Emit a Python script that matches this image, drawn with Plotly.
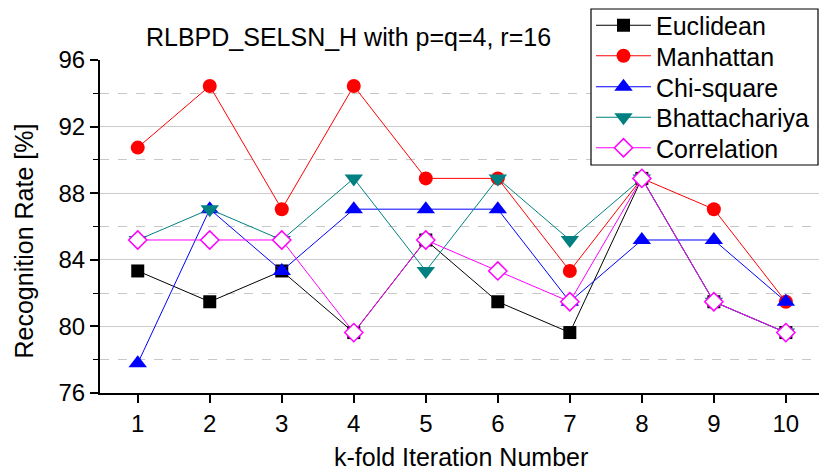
import plotly.graph_objects as go

# k-fold iterations and recognition rates (%) per distance measure
folds = [1, 2, 3, 4, 5, 6, 7, 8, 9, 10]
euclidean = [83.33, 81.48, 83.33, 79.63, 85.19, 81.48, 79.63, 88.89, 81.48, 79.63]
manhattan = [90.74, 94.44, 87.04, 94.44, 88.89, 88.89, 83.33, 88.89, 87.04, 81.48]
chi_square = [77.78, 87.04, 83.33, 87.04, 87.04, 87.04, 81.48, 85.19, 85.19, 81.48]
bhattachariya = [85.19, 87.04, 85.19, 88.89, 83.33, 88.89, 85.19, 88.89, 81.48, 79.63]
correlation = [85.19, 85.19, 85.19, 79.63, 85.19, 83.33, 81.48, 88.89, 81.48, 79.63]

y_ticks = [76, 80, 84, 88, 92, 96]

FONT = "Arial, Liberation Sans, sans-serif"
W, H = 819, 473
ML, MT, MB, MR = 100, 60, 80, 0
PW, PH = W - ML - MR, H - MT - MB
X_MIN, X_MAX = 0.476, 10.46


def px_x(px):
    return (px - ML) / PW


def px_y(py):
    return (H - MB - py) / PH


fig = go.Figure()

series = [
    ("Euclidean", euclidean, "#000000", "square", 13),
    ("Manhattan", manhattan, "#FF0000", "circle", 14),
    ("Chi-square", chi_square, "#0000FF", "triangle-up", 16),
    ("Bhattachariya", bhattachariya, "#008080", "triangle-down", 16),
]
for i, (name, vals, color, sym, size) in enumerate(series):
    fig.add_trace(go.Scatter(
        x=folds, y=vals, name=name, mode="lines+markers",
        legend="legend" if i == 0 else f"legend{i + 1}",
        line=dict(color=color, width=1),
        marker=dict(symbol=sym, size=size, color=color, line=dict(width=0)),
    ))

fig.add_trace(go.Scatter(
    x=folds, y=correlation, name="Correlation", mode="lines+markers",
    legend="legend5",
    line=dict(color="#FF00FF", width=1),
    marker=dict(symbol="diamond", size=14, color="#FFFFFF",
                line=dict(color="#FF00FF", width=1.5)),
))

# one legend per row so the row pitch can be set exactly
row_centers = [25.5, 56, 87, 117.5, 148]
legend_common = dict(
    xanchor="left", yanchor="middle", bgcolor="rgba(0,0,0,0)",
    borderwidth=0, itemwidth=55,
    font=dict(family=FONT, size=25, color="black"),
)
legends = {}
for i, cy in enumerate(row_centers):
    key = "legend" if i == 0 else f"legend{i + 1}"
    legends[key] = dict(x=px_x(591), y=px_y(cy), **legend_common)

fig.update_layout(
    width=W, height=H,
    margin=dict(l=ML, r=MR, t=MT, b=MB),
    paper_bgcolor="white", plot_bgcolor="white",
    font=dict(family=FONT, size=24, color="black"),
    title=dict(text="RLBPD_SELSN_H with p=q=4, r=16",
               x=px_x(348.5), xref="paper", xanchor="center",
               y=1 - 37 / H, yref="container", yanchor="middle",
               font=dict(family=FONT, size=25, color="black")),
    xaxis=dict(range=[X_MIN, X_MAX], tickvals=folds, ticktext=[str(f) for f in folds],
               showgrid=False, zeroline=False, showline=True, linecolor="black",
               linewidth=2, ticks="outside", ticklen=8, tickwidth=1.5,
               tickcolor="black", tickfont=dict(size=24)),
    yaxis=dict(range=[76, 96], tickvals=y_ticks, showgrid=True, gridcolor="#cccccc",
               gridwidth=1, zeroline=False, showline=True, linecolor="black",
               linewidth=2, ticks="outside", ticklen=8, tickwidth=1.5,
               tickcolor="black", tickfont=dict(size=24),
               minor=dict(dtick=2, tick0=76, showgrid=True, gridcolor="#c8c8c8",
                          griddash="dash", gridwidth=1, ticks="outside",
                          ticklen=5, tickcolor="black", tickwidth=1.2)),
    shapes=[dict(type="rect", xref="paper", yref="paper",
                 x0=px_x(591), x1=px_x(818), y0=px_y(165), y1=px_y(9),
                 line=dict(color="black", width=1.2), fillcolor="white",
                 layer="above")],
    annotations=[
        dict(text="Recognition Rate [%]", textangle=-90, showarrow=False,
             xref="paper", yref="paper", x=px_x(23), y=px_y(241.5),
             xanchor="center", yanchor="middle",
             font=dict(family=FONT, size=25, color="black")),
        dict(text="k-fold Iteration Number", showarrow=False,
             xref="paper", yref="paper", x=px_x(461), y=px_y(457),
             xanchor="center", yanchor="middle",
             font=dict(family=FONT, size=25, color="black")),
    ],
    showlegend=True,
    **legends,
)

fig.write_html("out.html")
